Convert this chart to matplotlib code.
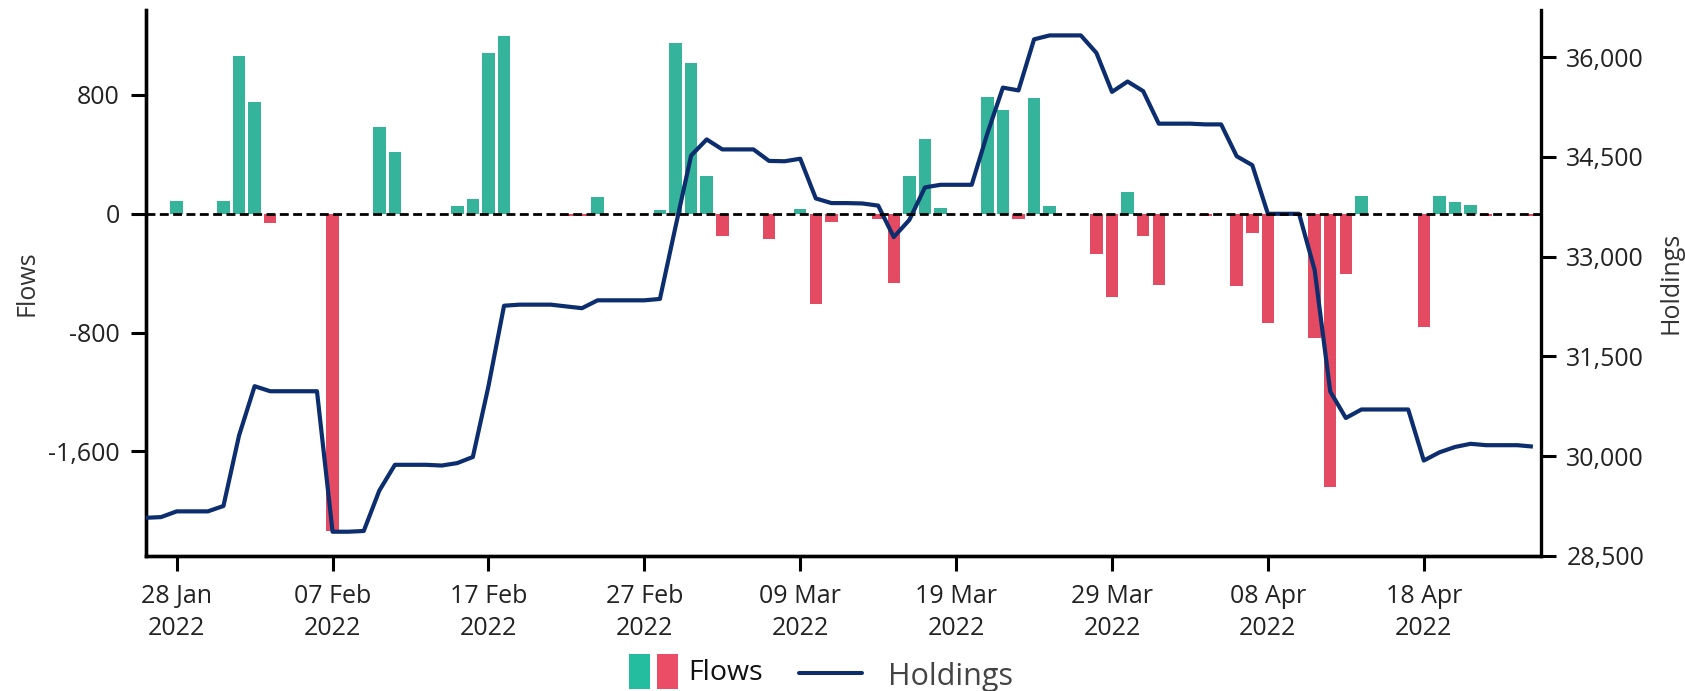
import matplotlib
matplotlib.use('Agg')
import matplotlib.pyplot as plt
import matplotlib.dates as mdates
import pandas as pd
from matplotlib.ticker import FuncFormatter, FixedLocator
from matplotlib.transforms import blended_transform_factory
from matplotlib.patches import Rectangle
from matplotlib.lines import Line2D

plt.rcParams['font.family'] = ['Open Sans', 'DejaVu Sans']

# ---------------- data ----------------
start_date = '2022-01-26'
end_date = '2022-04-25'

flows = [
    0, 0, 84, 0, 0, 84, 1057, 747, -65, 0,            # 26 Jan - 04 Feb
    0, 0, -2138, 0, 0, 584, 413, 0, 0, 0,             # 05 Feb - 14 Feb
    48, 101, 1083, 1194, 0, 0, 0, -19, -19, 110,      # 15 Feb - 24 Feb
    0, 0, 0, 26, 1148, 1013, 252, -154, 0, 0,         # 25 Feb - 06 Mar
    -173, 0, 33, -610, -60, 0, 0, -39, -466, 252,     # 07 Mar - 16 Mar
    499, 36, 0, 0, 781, 694, -34, 776, 48, 0,         # 17 Mar - 26 Mar
    0, -274, -562, 144, -154, -481, 0, 0, -14, 0,     # 27 Mar - 05 Apr
    -490, -130, -733, 0, 0, -839, -1838, -406, 120, 0,  # 06 Apr - 15 Apr
    0, 0, -762, 117, 76, 58, -17, 0, 0, -17,          # 16 Apr - 25 Apr
]

holdings = [
    29074, 29085, 29171, 29171, 29171, 29252, 30311, 31053, 30977, 30977,
    30977, 30977, 28865, 28865, 28876, 29484, 29871, 29871, 29871, 29860,
    29897, 29989, 31053, 32263, 32279, 32279, 32279, 32252, 32226, 32344,
    32344, 32344, 32344, 32365, 33450, 34521, 34763, 34613, 34613, 34613,
    34440, 34435, 34473, 33876, 33806, 33806, 33800, 33768, 33295, 33553,
    34042, 34081, 34081, 34081, 34850, 35542, 35500, 36268, 36327, 36327,
    36327, 36064, 35478, 35634, 35489, 35000, 35000, 35000, 34989, 34989,
    34510, 34376, 33645, 33645, 33645, 32800, 30973, 30575, 30703, 30703,
    30703, 30703, 29935, 30058, 30139, 30187, 30166, 30166, 30166, 30145,
]

flow_ticks = [-1600, -800, 0, 800]
holding_ticks = [28500, 30000, 31500, 33000, 34500, 36000]
x_tick_start = '2022-01-28'
x_tick_end = '2022-04-18'

flow_limits = (-2303, 1369)
holding_limits = (28500, 36709)

# ---------------- style ----------------
TEAL = '#35B39B'
RED = '#E44B62'
NAVY = '#0C2D6E'
TICK_COLOR = '#222222'
LABEL_COLOR = '#333333'

W, H = 1685, 691
fig = plt.figure(figsize=(W / 100, H / 100), dpi=100)

ax_left, ax_right, ax_top, ax_bottom = 145.5, 1540.7, 10, 556
ax = fig.add_axes([ax_left / W, 1 - ax_bottom / H,
                   (ax_right - ax_left) / W, (ax_bottom - ax_top) / H])

dates = pd.date_range(start_date, end_date, freq='D')
bar_colors = [TEAL if v >= 0 else RED for v in flows]
ax.bar(dates, flows, width=0.8, color=bar_colors, zorder=2, linewidth=0)

ax2 = ax.twinx()
ax2.plot(dates, holdings, color=NAVY, lw=3.0, zorder=3,
         solid_joinstyle='round', solid_capstyle='butt')

# dashed zero line on top of everything
trans = blended_transform_factory(ax2.transAxes, ax.transData)
ax2.plot([0, 1], [0, 0], transform=trans, color='black', lw=2.0,
         linestyle=(0, (3.2, 1.6)), zorder=5)

ax.set_ylim(*flow_limits)
ax2.set_ylim(*holding_limits)
ax.set_xlim(pd.Timestamp(start_date), pd.Timestamp(end_date) + pd.Timedelta(hours=12))

ax.yaxis.set_major_locator(FixedLocator(flow_ticks))
ax2.yaxis.set_major_locator(FixedLocator(holding_ticks))
fmt = FuncFormatter(lambda v, p: f"{v:,.0f}")
ax.yaxis.set_major_formatter(fmt)
ax2.yaxis.set_major_formatter(fmt)

xticks = pd.date_range(x_tick_start, x_tick_end, freq='10D')
ax.set_xticks(xticks)
ax.xaxis.set_major_formatter(mdates.DateFormatter('%d %b\n%Y'))

for a in (ax, ax2):
    a.spines['top'].set_visible(False)
    for s in ('left', 'right', 'bottom'):
        a.spines[s].set_linewidth(2.4)
        a.spines[s].set_color('black')
ax.spines['right'].set_visible(False)

ax.tick_params(axis='y', length=10.5, width=2.2, pad=8, labelsize=18,
               labelcolor=TICK_COLOR, color='black')
ax.tick_params(axis='x', length=10.5, width=2.2, pad=9.5, labelsize=18,
               labelcolor=TICK_COLOR, color='black')
ax2.tick_params(axis='y', length=10.5, width=2.2, pad=8, labelsize=18,
                labelcolor=TICK_COLOR, color='black')

ax.set_ylabel('Flows', fontsize=18, color=LABEL_COLOR)
ax2.set_ylabel('Holdings', fontsize=18, color=LABEL_COLOR)
ax.yaxis.set_label_coords((39 - ax_left) / (ax_right - ax_left), 0.5)
ax2.yaxis.set_label_coords((1658 - ax_left) / (ax_right - ax_left), 0.5)

# ---------------- legend (drawn in pixel space) ----------------
ov = fig.add_axes([0, 0, 1, 1], zorder=10)
ov.set_xlim(0, W)
ov.set_ylim(H, 0)
ov.axis('off')
ov.add_patch(Rectangle((629, 654), 21, 35, color='#24BDA0', lw=0))
ov.add_patch(Rectangle((657, 654), 21, 35, color='#EA4D65', lw=0))
ov.text(688, 680.5, 'Flows', fontsize=20.5, va='baseline', ha='left', color='#111111')
ov.add_line(Line2D([799, 862], [673.3, 673.3], lw=2.9, color=NAVY, solid_capstyle='round'))
ov.text(888, 684.5, 'Holdings', fontsize=22, va='baseline', ha='left', color='#444444')

fig.canvas.draw()
for lbl in ax.get_xticklabels():
    lbl.set_linespacing(1.4)

fig.savefig('out.png', dpi=100)
